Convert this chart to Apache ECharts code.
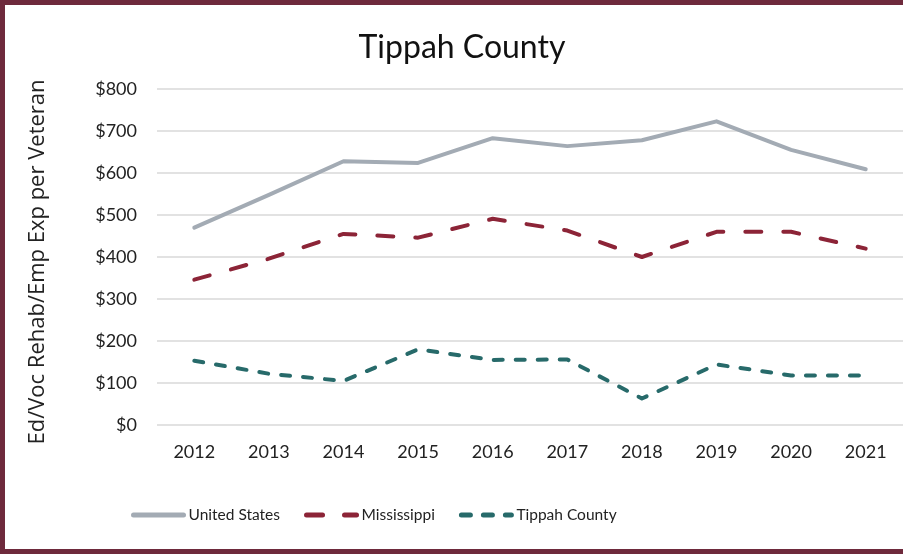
<!DOCTYPE html>
<html>
<head>
<meta charset="utf-8">
<script src="https://cdn.jsdelivr.net/npm/echarts@6/dist/echarts.min.js"></script>
<style>
html,body{margin:0;padding:0;background:#fff;}
#chart{position:absolute;left:0;top:0;width:903px;height:554px;}
#frame{position:absolute;left:0;top:0;width:903px;height:554px;box-sizing:border-box;border-top:5px solid #6e2a3c;border-left:5px solid #6e2a3c;border-bottom:5px solid #6e2a3c;pointer-events:none;}
</style>
</head>
<body>
<div id="chart"></div>
<div id="frame"></div>
<script>
const years = ['2012','2013','2014','2015','2016','2017','2018','2019','2020','2021'];
const unitedStates = [470, 548, 628, 624, 683, 664, 678, 723, 655, 609];
const mississippi = [346, 396, 455, 446, 491, 463, 400, 460, 460, 420];
const tippahCounty = [153, 122, 105, 180, 155, 156, 63, 144, 118, 118];
const yTicks = [0, 100, 200, 300, 400, 500, 600, 700, 800];

const FONT = 'Lato, "Open Sans", sans-serif';
const chart = echarts.init(document.getElementById('chart'), null, {renderer:'canvas'});
chart.setOption({
  animation:false,
  title:{text:'Tippah County', left:457, textAlign:'center', top:27,
    textStyle:{fontFamily:FONT, fontSize:32, fontWeight:'normal', color:'#111'}},
  grid:{left:157, right:0, top:89, bottom:129, containLabel:false},
  legend:{
    left:126, top:502, itemWidth:50, itemHeight:14, itemGap:24,
    itemStyle:{opacity:0},
    lineStyle:{width:5, cap:'round'},
    textStyle:{fontFamily:FONT, fontSize:15.5, color:'#222'},
    data:['United States','Mississippi','Tippah County']
  },
  xAxis:{type:'category', data:years, boundaryGap:true,
    axisLine:{show:false}, axisTick:{show:false},
    axisLabel:{fontFamily:FONT, fontSize:18, color:'#222', margin:18}},
  yAxis:{type:'value', min:0, max:800, interval:100,
    name:'Ed/Voc Rehab/Emp Exp per Veteran', nameLocation:'middle', nameGap:108,
    nameTextStyle:{fontFamily:'"Open Sans", Lato, sans-serif', fontSize:22, color:'#222', padding:[0,10,0,0]},
    axisLine:{show:false}, axisTick:{show:false},
    splitLine:{lineStyle:{color:'#d9d9d9', width:1.5}},
    axisLabel:{fontFamily:FONT, fontSize:18, color:'#222', margin:20,
      formatter:v=>'$'+v}},
  series:[
    {name:'United States', type:'line', data:unitedStates, symbol:'none',
      lineStyle:{color:'#a3abb4', width:4, cap:'round', join:'round'}, itemStyle:{color:'#a3abb4'}},
    {name:'Mississippi', type:'line', data:mississippi, symbol:'none',
      lineStyle:{color:'#8c2437', width:4, type:[16,22], cap:'round', join:'round'}, itemStyle:{color:'#8c2437'}},
    {name:'Tippah County', type:'line', data:tippahCounty, symbol:'none',
      lineStyle:{color:'#276a6a', width:4, type:[9,13], cap:'round', join:'round'}, itemStyle:{color:'#276a6a'}}
  ]
});
</script>
</body>
</html>
